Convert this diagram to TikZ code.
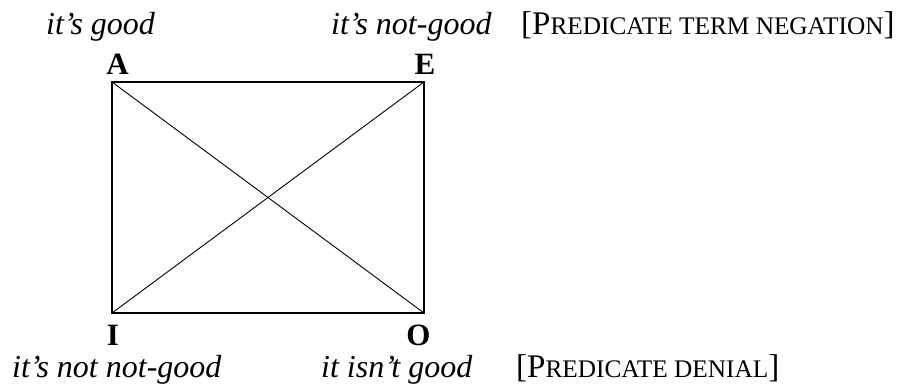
\documentclass[tikz,border=0pt]{standalone}
\usepackage{fontspec}
\setmainfont{Liberation Serif}
\newcommand{\fsc}[2]{{\fontsize{33}{36}\selectfont #1}{\fontsize{25.3}{28}\selectfont #2}}
\begin{document}
\begin{tikzpicture}[x=1pt,y=-1pt,
  lab/.style={font=\fontsize{32}{35}\selectfont\itshape, inner sep=0pt, anchor=base west},
  corner/.style={font=\fontsize{31}{34}\selectfont\bfseries, inner sep=0pt, anchor=base},
  note/.style={inner sep=0pt, anchor=base west},
  edge/.style={line width=1.5pt},
  diag/.style={line width=0.9pt}]
\useasboundingbox (0,0) rectangle (898,385);
\coordinate (a) at (112,82);
\coordinate (e) at (424,82);
\coordinate (i) at (112,313);
\coordinate (o) at (424,313);
\draw[edge] (a) -- (e) -- (o) -- (i) -- cycle;
\draw[diag] (a) -- (o);
\draw[diag] (e) -- (i);
\node[corner] (A) at (117.5,75) {A};
\node[corner] (E) at (425,75) {E};
\node[corner] (I) at (113,345) {I};
\node[corner] (O) at (418.5,345) {O};
\node[lab] (t1) at (46,35) {it’s good};
\node[lab] (t2) at (331,35) {it’s not-good};
\node[note] (t3) at (521,35) {\fsc{[P}{REDICATE TERM NEGATION}\fsc{]}{}};
\node[lab] (b1) at (12,377) {it{\char"0027}s not not-good};
\node[lab] (b2) at (321,377) {it isn’t good};
\node[note] (b3) at (516,377) {\fsc{[P}{REDICATE DENIAL}\fsc{]}{}};
\end{tikzpicture}
\end{document}
